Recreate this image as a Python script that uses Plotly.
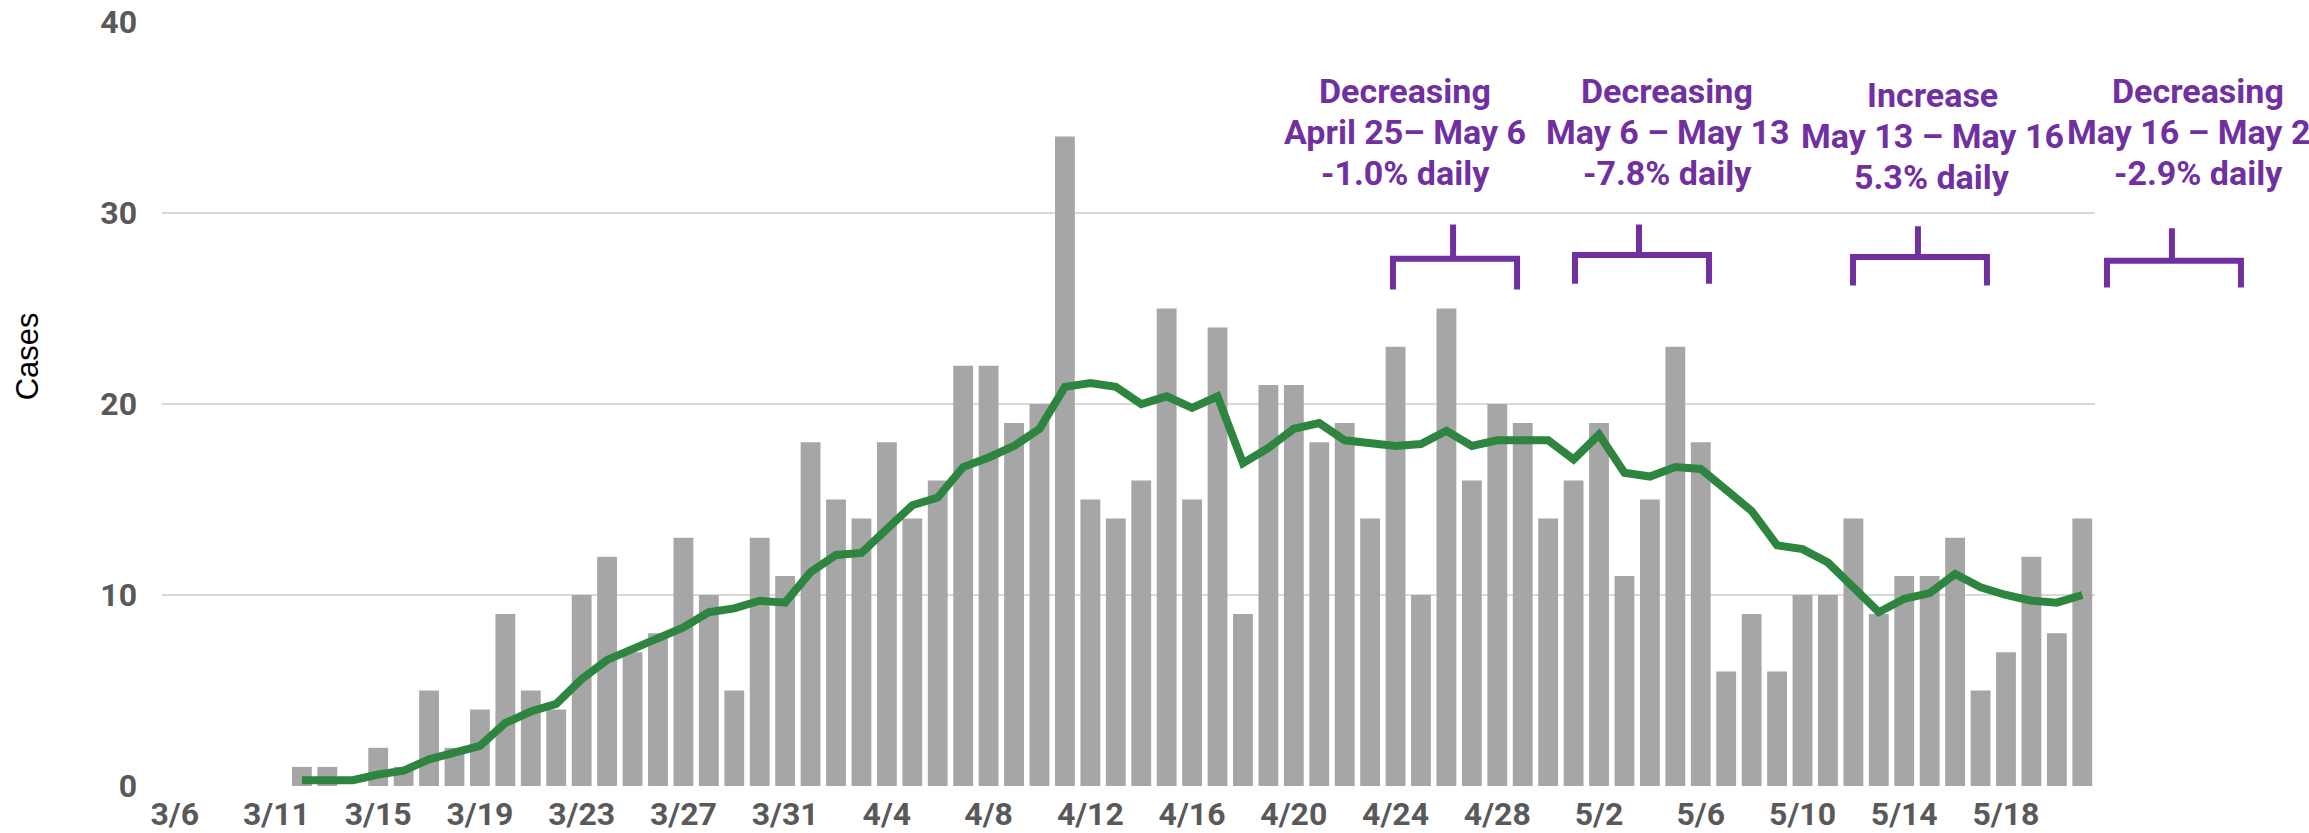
import plotly.graph_objects as go

# Dates (category axis; only every 4th one gets a label)
dates = (["3/6", "3/8", "3/9", "3/10"]
         + [f"3/{d}" for d in range(11, 32)]
         + [f"4/{d}" for d in range(1, 31)]
         + [f"5/{d}" for d in range(1, 22)])

# Daily cases
cases = [0, 0, 0, 0, 0,
         1, 1, 0, 2, 1, 5, 2, 4, 9, 5, 4, 10, 12, 7, 8, 13, 10, 5, 13, 11,
         18, 15, 14, 18, 14, 16, 22, 22, 19, 20, 34, 15, 14, 16, 25, 15, 24, 9,
         21, 21, 18, 19, 14, 23, 10, 25, 16, 20, 19, 14,
         16, 19, 11, 15, 23, 18, 6, 9, 6, 10, 10, 14, 9, 11, 11, 13, 5, 7, 12, 8, 14]

# Moving average (starts 3/12)
avg = [None, None, None, None, None,
       0.3, 0.3, 0.3, 0.6, 0.8, 1.4, 1.7, 2.1, 3.3, 3.9, 4.3, 5.6, 6.6, 7.2, 7.8,
       8.3, 9.1, 9.3, 9.7, 9.6,
       11.2, 12.1, 12.2, 13.4, 14.7, 15.1, 16.7, 17.2, 17.8, 18.7, 20.9, 21.1, 20.9,
       20.0, 20.4, 19.8, 20.4, 16.9, 17.7, 18.7, 19.0, 18.1, 17.9, 17.8, 17.9, 18.6,
       17.8, 18.1, 18.1, 18.1,
       17.1, 18.4, 16.4, 16.2, 16.7, 16.6, 15.5, 14.4, 12.6, 12.4, 11.7, 10.4, 9.1,
       9.8, 10.1, 11.1, 10.4, 10.0, 9.7, 9.6, 10.0]

# Trend annotations (three lines each)
trend_text = [
    ["Decreasing", "April 25– May 6", "-1.0% daily"],
    ["Decreasing", "May 6 – May 13", "-7.8% daily"],
    ["Increase", "May 13 – May 16", "5.3% daily"],
    ["Decreasing", "May 16 – May 21", "-2.9% daily"],
]
text_x = [0.6431, 0.7786, 0.9157, 1.0533]
text_dy = [0, 0, -0.2, 0]
line_y = [36.4, 34.25, 32.1]
# bracket: left, stem, right (paper x); top, bar, bottom (y values)
brackets = [
    (0.6368, 0.6679, 0.7010, 29.4, 27.6, 26.0),
    (0.7310, 0.7641, 0.8003, 29.4, 27.8, 26.3),
    (0.8748, 0.9084, 0.9441, 29.3, 27.7, 26.2),
    (1.0062, 1.0398, 1.0755, 29.2, 27.5, 26.1),
]

purple = "#7030A0"
tick_font = dict(family="Roboto, sans-serif", size=32, color="#595959", weight="bold")

fig = go.Figure()

fig.add_trace(go.Bar(
    x=dates, y=cases,
    marker=dict(color="#A6A6A6", line=dict(width=0)),
    name="Cases",
))

fig.add_trace(go.Scatter(
    x=dates, y=avg,
    mode="lines",
    line=dict(color="#2E853F", width=8),
    name="Average",
))

for (l, s, r, top, mid, bot) in brackets:
    fig.add_shape(
        type="path",
        xref="paper", yref="y",
        path=f"M {l},{bot} L {l},{mid} L {r},{mid} L {r},{bot} M {s},{mid} L {s},{top}",
        line=dict(color=purple, width=6),
    )

for lines, x, dy in zip(trend_text, text_x, text_dy):
    for t, y in zip(lines, line_y):
        fig.add_annotation(
            x=x, y=y + dy, xref="paper", yref="y",
            text=t, showarrow=False,
            xanchor="center", yanchor="middle",
            font=dict(family="Roboto, sans-serif", size=34, color=purple, weight="bold"),
        )

fig.add_annotation(
    x=-0.0698, y=22.5, xref="paper", yref="y",
    text="Cases", showarrow=False, textangle=-90,
    xanchor="center", yanchor="middle",
    font=dict(family="Liberation Sans, Arial, sans-serif", size=31, color="#000000"),
)

fig.update_layout(
    width=2309, height=833,
    margin=dict(l=162, r=214, t=22, b=47),
    plot_bgcolor="white", paper_bgcolor="white",
    showlegend=False,
    bargap=0.22,
    xaxis=dict(
        type="category",
        tickvals=dates[::4], ticktext=dates[::4],
        tickfont=tick_font,
        ticks="", showgrid=False, zeroline=False,
        showline=False, automargin=False,
        ticklabelstandoff=6,
    ),
    yaxis=dict(
        range=[0, 40], tickvals=[0, 10, 20, 30, 40],
        tickfont=tick_font,
        ticks="", showgrid=True, gridcolor="#D9D9D9", gridwidth=2,
        zeroline=False, showline=False, automargin=False,
        ticklabelstandoff=24,
    ),
)

# page has a default body margin; drop it so the figure fills the window
fig.write_html("out.html", config={"displayModeBar": False},
               post_script="document.body.style.margin='0';")
